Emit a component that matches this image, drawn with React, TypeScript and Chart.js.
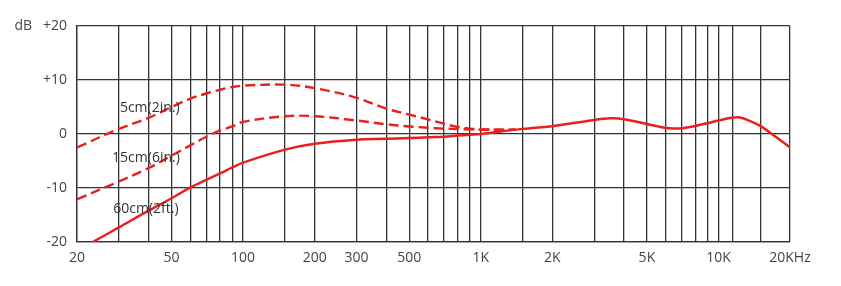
import React, { useEffect, useRef } from "react";
import { Chart, registerables } from "chart.js";

Chart.register(...registerables);

// Grid lines (Hz) and labelled ticks
const gridFreqs = [20, 30, 40, 50, 60, 70, 80, 90, 100, 150, 200, 300, 400, 500, 600, 700, 800, 900, 1000, 1500, 2000, 3000, 4000, 5000, 6000, 7000, 8000, 9000, 10000, 11500, 15000, 20000];
const tickValues = [20, 50, 100, 200, 300, 500, 1000, 2000, 5000, 10000, 20000];
const tickLabels = ["20", "50", "100", "200", "300", "500", "1K", "2K", "5K", "10K", "20KHz"];
const dbTicks = [-20, -10, 0, 10, 20];
const dbTickLabels = ["-20", "-10", "0", "+10", "dB   +20"];

// 60cm (2ft.) – solid
const freq60 = [23.3, 30, 40, 50, 60, 70, 80, 90, 100, 150, 200, 300, 400, 500, 600, 700, 800, 900, 1000, 1500, 2000, 3000, 3500, 4000, 5000, 6000, 6500, 7000, 8000, 9000, 10000, 11400, 12300, 13600, 15000, 16800, 20000];
const db60 = [-20, -17.3, -14.2, -11.9, -9.9, -8.5, -7.3, -6.2, -5.3, -2.9, -1.8, -1.05, -0.9, -0.75, -0.6, -0.5, -0.3, -0.15, 0, 0.95, 1.45, 2.6, 2.9, 2.75, 1.85, 1.1, 1.0, 1.05, 1.5, 2.0, 2.5, 3.0, 3.05, 2.4, 1.5, 0, -2.5];

// 15cm (6in.) – dashed
const freq15 = [20, 30, 40, 50, 60, 70, 80, 90, 100, 150, 200, 300, 400, 500, 600, 700, 800, 900, 1000, 1400];
const db15 = [-12.1, -8.8, -6.3, -4.0, -2.1, -0.5, 0.65, 1.4, 2.25, 3.3, 3.3, 2.5, 1.8, 1.4, 1.15, 1.0, 0.9, 0.85, 0.8, 0.8];

// 5cm (2in.) – dashed
const freq5 = [20, 30, 40, 50, 60, 70, 80, 90, 100, 150, 200, 300, 400, 500, 600, 700, 800, 900, 1000, 1400];
const db5 = [-2.5, 0.95, 3.0, 5.0, 6.55, 7.5, 8.2, 8.7, 8.95, 9.15, 8.5, 6.7, 4.7, 3.6, 2.7, 1.9, 1.3, 1.0, 0.85, 0.8];

// Curve labels (anchored in data space)
const curveLabelTexts = ["5cm(2in.)", "15cm(6in.)", "60cm(2ft.)"];
const curveLabelFreqs = [30.3, 28.1, 28.4];
const curveLabelDbs = [4.85, -4.45, -13.9];

const RED = "#e8211f";
const GRID = "#333333";
const TEXT = "#444444";
const FONT = "'Open Sans', 'DejaVu Sans', sans-serif";

function toPoints(xs: number[], ys: number[]) {
  return xs.map((x, i) => ({ x, y: ys[i] }));
}

const curveLabelPlugin = {
  id: "curveLabels",
  afterDatasetsDraw(chart: any) {
    const { ctx, scales } = chart;
    ctx.save();
    ctx.fillStyle = "#333333";
    ctx.font = `14px ${FONT}`;
    ctx.textAlign = "left";
    ctx.textBaseline = "middle";
    curveLabelTexts.forEach((t, i) => {
      const x = scales.x.getPixelForValue(curveLabelFreqs[i]);
      const y = scales.y.getPixelForValue(curveLabelDbs[i]);
      ctx.fillText(t, x, y);
    });
    ctx.restore();
  },
};

export default function App() {
  const ref = useRef<HTMLCanvasElement | null>(null);

  useEffect(() => {
    if (!ref.current) return;
    const chart = new Chart(ref.current, {
      type: "line",
      data: {
        datasets: [
          {
            label: "5cm(2in.)",
            data: toPoints(freq5, db5),
            borderColor: RED,
            borderWidth: 2.4,
            borderDash: [10, 5],
            pointRadius: 0,
            tension: 0.35,
            fill: false,
          },
          {
            label: "15cm(6in.)",
            data: toPoints(freq15, db15),
            borderColor: RED,
            borderWidth: 2.4,
            borderDash: [10, 5],
            pointRadius: 0,
            tension: 0.35,
            fill: false,
          },
          {
            label: "60cm(2ft.)",
            data: toPoints(freq60, db60),
            borderColor: RED,
            borderWidth: 2.5,
            pointRadius: 0,
            tension: 0.35,
            fill: false,
          },
        ],
      },
      options: {
        animation: false,
        responsive: false,
        devicePixelRatio: 1,
        layout: { padding: { top: 26, right: 51, left: 0, bottom: 0 } },
        plugins: { legend: { display: false }, tooltip: { enabled: false } },
        scales: {
          x: {
            type: "logarithmic",
            min: 20,
            max: 20000,
            afterBuildTicks: (s: any) => {
              s.ticks = gridFreqs.map((v) => ({ value: v }));
            },
            afterFit: (s: any) => {
              s.height = 44;
            },
            grid: { color: GRID, lineWidth: 1.3, drawTicks: false },
            border: { color: GRID, width: 1.3 },
            ticks: {
              autoSkip: false,
              maxRotation: 0,
              padding: 8,
              color: TEXT,
              font: { family: FONT, size: 14 },
              callback: (v: any) => {
                const i = tickValues.indexOf(Number(v));
                return i >= 0 ? tickLabels[i] : "";
              },
            },
          },
          y: {
            type: "linear",
            min: -20,
            max: 20,
            afterBuildTicks: (s: any) => {
              s.ticks = dbTicks.map((v) => ({ value: v }));
            },
            afterFit: (s: any) => {
              s.width = 77;
            },
            grid: { color: GRID, lineWidth: 1.3, drawTicks: false },
            border: { color: GRID, width: 1.3 },
            ticks: {
              padding: 10,
              color: TEXT,
              font: { family: FONT, size: 14 },
              callback: (v: any) => {
                const i = dbTicks.indexOf(Number(v));
                return i >= 0 ? dbTickLabels[i] : "";
              },
            },
          },
        },
      },
      plugins: [curveLabelPlugin],
    });
    return () => chart.destroy();
  }, []);

  return (
    <div style={{ position: "absolute", left: 0, top: 0, width: 841, height: 286, background: "#fff" }}>
      <canvas ref={ref} width={841} height={286} />
    </div>
  );
}
